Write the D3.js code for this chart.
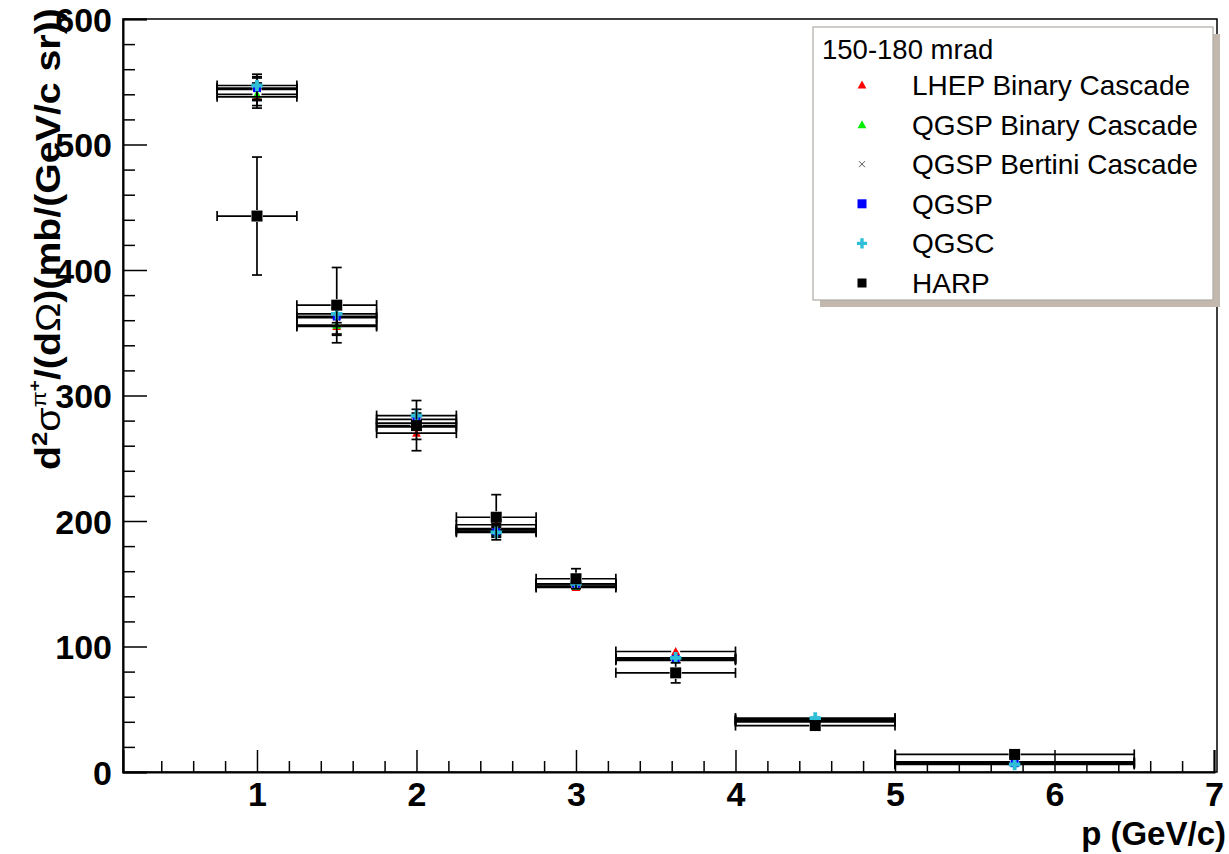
<!DOCTYPE html>
<html>
<head>
<meta charset="utf-8">
<style>
  body { margin: 0; background: #fff; }
  text { font-family: "Liberation Sans", Arial, Helvetica, sans-serif; }
</style>
</head>
<body>
<div id="graph_div"></div>

<script src="https://d3js.org/d3.v7.min.js"></script>

<script>

// momentum bins (GeV/c)
let p_center = [1.0, 1.5, 2.0, 2.5, 3.0, 3.625, 4.5, 5.75];
let p_low    = [0.75, 1.25, 1.75, 2.25, 2.75, 3.25, 4.0, 5.0];
let p_high   = [1.25, 1.75, 2.25, 2.75, 3.25, 4.0, 5.0, 6.5];

// model predictions, d2sigma/(dp dOmega)
let lhep_binary   = [538, 355, 270, 197, 147, 96, 42, 8];
let qgsp_binary   = [540, 356, 275, 194, 148, 90, 40, 7];
let qgsp_bertini  = [544, 362, 278, 193, 149, 89, 41, 7];
let qgsp          = [545, 363, 281, 192, 150, 90, 41, 7];
let qgsc          = [547, 365, 284, 191, 150, 91, 43, 6];
let model_err     = [9, 7, 5, 4, 3, 3, 2, 1];

// HARP measurement
let harp_values = [443, 372, 276, 203, 154, 79, 37, 14];
let harp_err    = [47, 30, 20, 18, 8, 8, 4, 3];

let x_ticks = [1, 2, 3, 4, 5, 6, 7];
let y_ticks = [0, 100, 200, 300, 400, 500, 600];
let legend_header = "150-180 mrad";
let legend_names = ["LHEP Binary Cascade", "QGSP Binary Cascade", "QGSP Bertini Cascade", "QGSP", "QGSC", "HARP"];

let width = 1229, height = 854;
let frame = {left: 123, right: 1214, top: 19, bottom: 772};

let svg = d3.select("#graph_div")
  .append("svg")
    .attr("width", width)
    .attr("height", height)
    .attr("style", "background: white; display: block");

let x = d3.scaleLinear().domain([0.16, 7.0]).range([frame.left, frame.right]);
let y = d3.scaleLinear().domain([0, 600]).range([frame.bottom, frame.top]);

// frame
svg.append("rect")
  .attr("x", frame.left).attr("y", frame.top)
  .attr("width", frame.right - frame.left + 3)
  .attr("height", frame.bottom - frame.top)
  .attr("fill", "none").attr("stroke", "#000").attr("stroke-width", 1.5);

// minor ticks first, then majors
let x_minor = d3.range(2, 35).map(d => d / 5).filter(d => d % 1 !== 0);
svg.append("g")
  .attr("transform", "translate(0," + frame.bottom + ")")
  .call(d3.axisBottom(x).tickValues(x_minor).tickSize(-11).tickFormat(""))
  .call(g => g.select(".domain").remove())
  .selectAll("line").attr("stroke-width", 1.5);
let x_axis = svg.append("g")
  .attr("transform", "translate(0," + frame.bottom + ")")
  .call(d3.axisBottom(x).tickValues(x_ticks).tickSize(-22).tickPadding(0).tickFormat(d3.format("d")));
x_axis.select(".domain").attr("stroke-width", 2);
x_axis.selectAll("line").attr("stroke-width", 1.5);
x_axis.selectAll("text")
  .attr("y", 34).attr("dy", 0)
  .attr("font-size", 34).attr("font-weight", "bold")
  .attr("font-family", "Liberation Sans, Arial, sans-serif");

let y_minor = d3.range(20, 600, 20).filter(d => d % 100 !== 0);
svg.append("g")
  .attr("transform", "translate(" + frame.left + ",0)")
  .call(d3.axisLeft(y).tickValues(y_minor).tickSize(-12).tickFormat(""))
  .call(g => g.select(".domain").remove())
  .selectAll("line").attr("stroke-width", 1.5);
let y_axis = svg.append("g")
  .attr("transform", "translate(" + frame.left + ",0)")
  .call(d3.axisLeft(y).tickValues(y_ticks).tickSize(-24).tickPadding(0).tickFormat(d3.format("d")));
y_axis.select(".domain").attr("stroke-width", 2);
y_axis.selectAll("line").attr("stroke-width", 1.5);
y_axis.selectAll("text")
  .attr("x", -11).attr("dy", "0.36em")
  .attr("font-size", 34).attr("font-weight", "bold")
  .attr("font-family", "Liberation Sans, Arial, sans-serif");

// axis titles
svg.append("text")
  .attr("x", 1226).attr("y", 845)
  .attr("text-anchor", "end")
  .attr("font-size", 33).attr("font-weight", "bold")
  .text("p (GeV/c)");

let ytitle = svg.append("text")
  .attr("font-size", 35).attr("font-weight", "bold");
ytitle.append("tspan").text("d");
ytitle.append("tspan").attr("font-size", 23).attr("dy", -13).text("2");
ytitle.append("tspan").attr("font-weight", "normal").attr("dy", 13).text("σ");
ytitle.append("tspan").attr("font-size", 21).attr("font-weight", "normal").attr("dy", -14).text("π");
ytitle.append("tspan").attr("font-size", 17).attr("dy", -6).text("+");
ytitle.append("tspan").attr("dy", 20).text("/(d");
ytitle.append("tspan").attr("font-weight", "normal").text("Ω");
ytitle.append("tspan").text(")(mb/(GeV/c sr))");
let ylen = ytitle.node().getComputedTextLength();
ytitle.attr("transform", "translate(60,470) rotate(-90) scale(" + (462 / ylen) + ",1)");

// series: error bars + markers, drawn in order
let series = [
  {name: legend_names[0], values: lhep_binary,  err: model_err, color: "#ff0000", shape: "tri",   size: 8},
  {name: legend_names[1], values: qgsp_binary,  err: model_err, color: "#00ee00", shape: "tri",   size: 8},
  {name: legend_names[2], values: qgsp_bertini, err: model_err, color: "#555555", shape: "x",     size: 8},
  {name: legend_names[3], values: qgsp,         err: model_err, color: "#0000ff", shape: "sq",    size: 8},
  {name: legend_names[4], values: qgsc,         err: model_err, color: "#2fbfd6", shape: "cross", size: 9},
  {name: legend_names[5], values: harp_values,  err: harp_err,  color: "#000000", shape: "sq",    size: 11}
];

function drawMarker(g, shape, color, size, cx, cy) {
  if (shape === "tri") {
    let h = size;
    g.append("path")
      .attr("d", "M" + cx + "," + (cy - h * 0.55) + "L" + (cx + h * 0.55) + "," + (cy + h * 0.45) +
                 "L" + (cx - h * 0.55) + "," + (cy + h * 0.45) + "Z")
      .attr("fill", color);
  } else if (shape === "sq") {
    g.append("rect")
      .attr("x", cx - size / 2).attr("y", cy - size / 2)
      .attr("width", size).attr("height", size)
      .attr("fill", color);
  } else if (shape === "x") {
    let r = size / 2 - 1;
    g.append("path")
      .attr("d", "M" + (cx - r) + "," + (cy - r) + "L" + (cx + r) + "," + (cy + r) +
                 "M" + (cx - r) + "," + (cy + r) + "L" + (cx + r) + "," + (cy - r))
      .attr("stroke", color).attr("stroke-width", 1).attr("fill", "none");
  } else if (shape === "cross") {
    g.append("path")
      .attr("d", d3.symbol(d3.symbolCross, size * size * 0.9)())
      .attr("transform", "translate(" + cx + "," + cy + ")")
      .attr("fill", color);
  }
}

let plot = svg.append("g").attr("id", "plot");
series.forEach(function(s) {
  let g = plot.append("g");
  s.values.forEach(function(v, i) {
    let cx = x(p_center[i]), cy = y(v);
    let xl = x(p_low[i]), xh = x(p_high[i]);
    let yt = y(v + s.err[i]), yb = y(v - s.err[i]);
    let hw = s.size / 2 + 0.5;
    let ln = g.append("g").attr("stroke", "#000").attr("stroke-width", 1.7).attr("fill", "none");
    // horizontal bar with end caps
    ln.append("line").attr("x1", xl).attr("x2", cx - hw).attr("y1", cy).attr("y2", cy);
    ln.append("line").attr("x1", cx + hw).attr("x2", xh).attr("y1", cy).attr("y2", cy);
    ln.append("line").attr("x1", xl).attr("x2", xl).attr("y1", cy - 5).attr("y2", cy + 5);
    ln.append("line").attr("x1", xh).attr("x2", xh).attr("y1", cy - 5).attr("y2", cy + 5);
    // vertical bar with caps
    if (yt < cy - hw) {
      ln.append("line").attr("x1", cx).attr("x2", cx).attr("y1", yt).attr("y2", cy - hw);
      ln.append("line").attr("x1", cx - 5).attr("x2", cx + 5).attr("y1", yt).attr("y2", yt);
    }
    if (yb > cy + hw) {
      ln.append("line").attr("x1", cx).attr("x2", cx).attr("y1", cy + hw).attr("y2", yb);
      ln.append("line").attr("x1", cx - 5).attr("x2", cx + 5).attr("y1", yb).attr("y2", yb);
    }
    drawMarker(g, s.shape, s.color, s.size, cx, cy);
  });
});

// legend
let lg = svg.append("g").attr("id", "legend");
lg.append("rect")
  .attr("x", 820).attr("y", 34).attr("width", 400).attr("height", 273)
  .attr("fill", "#c2b8ad");
lg.append("rect")
  .attr("x", 813).attr("y", 27).attr("width", 400).attr("height", 273)
  .attr("fill", "#fff").attr("stroke", "#b0aaa4").attr("stroke-width", 1.2);
lg.append("text")
  .attr("x", 822).attr("y", 59)
  .attr("font-size", 27.5)
  .text(legend_header);
series.forEach(function(s, i) {
  let cy = 85 + i * 39.6;
  let msize = s.shape === "sq" ? 9 : 8;
  drawMarker(lg, s.shape, s.color, msize, 862, cy);
  lg.append("text")
    .attr("x", 912).attr("y", cy + 10)
    .attr("font-size", 28)
    .text(s.name);
});

</script>
</body>
</html>
